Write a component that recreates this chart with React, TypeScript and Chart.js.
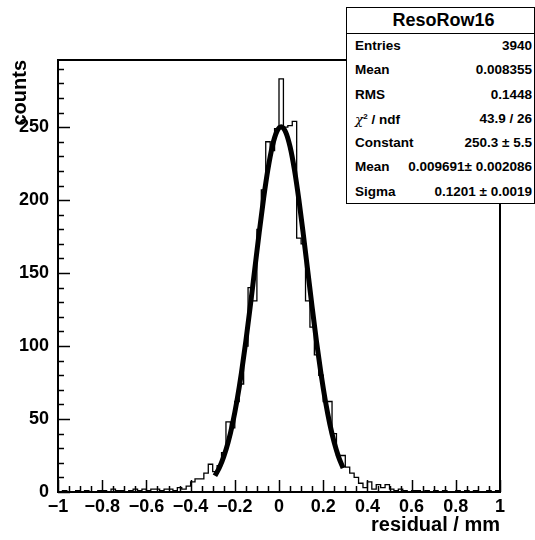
import React, { useEffect, useRef } from 'react';
import { Chart, registerables } from 'chart.js';

Chart.register(...registerables);

// ---------- data ----------
const HIST_MIN = -1;
const BIN_WIDTH = 0.02;
const COUNTS: number[] = [
  // -1.00 .. -0.44
  0, 1, 0, 0, 1, 0, 1, 0, 0, 1,
  1, 0, 2, 1, 1, 0, 1, 2, 1, 2,
  1, 2, 2, 1, 2, 2, 1, 3,
  // -0.44 .. -0.24
  2, 4, 7, 9, 9, 13, 19, 14, 18, 27,
  // -0.24 .. 0
  48, 44, 62, 74, 100, 140, 131, 180, 207, 240, 234, 249,
  // 0 .. 0.30
  283, 250, 251, 254, 174, 170, 131, 113, 94, 80, 62, 62, 40, 25, 25,
  // 0.30 .. 0.54
  17, 13, 10, 6, 3, 7, 2, 5, 3, 5, 2, 1,
  // 0.54 .. 1.00
  2, 1, 0, 1, 1, 0, 1, 0, 1, 0, 1, 0, 0, 1, 0, 1, 0, 1, 0, 0, 1, 0, 1,
];

const FIT_X: number[] = [
  -0.29, -0.27, -0.25, -0.23, -0.21, -0.19, -0.17, -0.15, -0.13, -0.11,
  -0.09, -0.07, -0.05, -0.03, -0.01, 0.01, 0.03, 0.05, 0.07, 0.09,
  0.11, 0.13, 0.15, 0.17, 0.19, 0.21, 0.23, 0.25, 0.27, 0.29,
];
const FIT_Y: number[] = [
  11.1, 16.6, 24.2, 34.1, 47.0, 62.8, 81.7, 103.4, 127.3, 152.3,
  177.3, 200.8, 221.2, 237.0, 246.9, 250.3, 246.7, 236.6, 220.7, 200.2,
  176.6, 151.6, 126.5, 102.7, 81.1, 62.3, 46.5, 33.8, 23.9, 16.4,
];

const X_MIN = -1;
const X_MAX = 1;
const Y_MIN = 0;
const Y_MAX = 296;
const X_MAJOR = [-1, -0.8, -0.6, -0.4, -0.2, 0, 0.2, 0.4, 0.6, 0.8, 1];
const X_LABELS = ['\u22121', '\u22120.8', '\u22120.6', '\u22120.4', '\u22120.2', '0', '0.2', '0.4', '0.6', '0.8', '1'];
const X_MINOR_STEP = 0.05;
const Y_MAJOR = [0, 50, 100, 150, 200, 250];
const Y_LABELS = ['0', '50', '100', '150', '200', '250'];
const Y_MINOR_STEP = 10;

const X_TITLE = 'residual / mm';
const Y_TITLE = 'counts';

const STATS_TITLE = 'ResoRow16';
const STATS_LABELS = ['Entries', 'Mean', 'RMS', 'CHI', 'Constant', 'Mean', 'Sigma'];
const STATS_VALUES = ['3940', '0.008355', '0.1448', '43.9 / 26', '250.3 \u00b1 5.5', '0.009691\u00b1 0.002086', '0.1201 \u00b1 0.0019'];

const FONT = "'Liberation Sans', Arial, Helvetica, sans-serif";

// ---------- helpers ----------
function labelFor(v: number, majors: number[], labels: string[]): string {
  for (let i = 0; i < majors.length; i++) {
    if (Math.abs(v - majors[i]) < 1e-6) return labels[i];
  }
  return '';
}

function isMajor(v: number, majors: number[]): boolean {
  return majors.some((m) => Math.abs(v - m) < 1e-6);
}

const rootAxesPlugin = {
  id: 'rootAxes',
  afterDraw(chart: any) {
    const { ctx, chartArea } = chart;
    const xs = chart.scales.x;
    const ys = chart.scales.y;
    ctx.save();
    ctx.strokeStyle = '#000';
    ctx.lineWidth = 1.5;
    const nx = Math.round((X_MAX - X_MIN) / X_MINOR_STEP);
    for (let i = 0; i <= nx; i++) {
      const v = X_MIN + i * X_MINOR_STEP;
      const px = Math.round(xs.getPixelForValue(v)) + 0.5;
      const len = isMajor(v, X_MAJOR) ? 12 : 6;
      ctx.beginPath();
      ctx.moveTo(px, chartArea.bottom);
      ctx.lineTo(px, chartArea.bottom - len);
      ctx.stroke();
    }
    for (let v = Y_MIN; v <= Y_MAX; v += Y_MINOR_STEP) {
      const py = Math.round(ys.getPixelForValue(v)) + 0.5;
      const len = isMajor(v, Y_MAJOR) ? 12 : 6;
      ctx.beginPath();
      ctx.moveTo(chartArea.left, py);
      ctx.lineTo(chartArea.left + len, py);
      ctx.stroke();
    }
    ctx.lineWidth = 2;
    ctx.strokeRect(chartArea.left, chartArea.top, chartArea.right - chartArea.left, chartArea.bottom - chartArea.top);
    ctx.restore();
  },
};

function StatsBox() {
  const rowH = 24.3;
  return (
    <div
      style={{
        position: 'absolute',
        left: 346,
        top: 7,
        width: 189,
        height: 197,
        boxSizing: 'border-box',
        border: '1.5px solid #000',
        background: '#fff',
        fontFamily: FONT,
        color: '#000',
      }}
    >
      <div
        style={{
          height: 25,
          lineHeight: '25px',
          textAlign: 'center',
          fontWeight: 'bold',
          fontSize: 18,
          borderBottom: '1.5px solid #000',
          paddingLeft: 6,
        }}
      >
        {STATS_TITLE}
      </div>
      {STATS_LABELS.map((lab, i) => (
        <div
          key={i}
          style={{
            height: rowH,
            lineHeight: rowH + 'px',
            display: 'flex',
            justifyContent: 'space-between',
            fontWeight: 'bold',
            fontSize: 13.5,
            paddingLeft: 8,
            paddingRight: 2,
            whiteSpace: 'nowrap',
          }}
        >
          <span>
            {lab === 'CHI' ? (
              <span>
                <i style={{ fontWeight: 'normal', fontFamily: "'DejaVu Serif', serif" }}>{'\u03c7'}</i>
                <span style={{ fontSize: 8, position: 'relative', top: -5 }}>2</span>
                {' / ndf'}
              </span>
            ) : (
              lab
            )}
          </span>
          <span>{STATS_VALUES[i]}</span>
        </div>
      ))}
    </div>
  );
}

export default function App() {
  const ref = useRef<HTMLCanvasElement>(null);

  useEffect(() => {
    const histPoints: { x: number; y: number }[] = [{ x: HIST_MIN, y: 0 }];
    COUNTS.forEach((c, i) => {
      const lo = HIST_MIN + i * BIN_WIDTH;
      histPoints.push({ x: lo, y: c });
      histPoints.push({ x: lo + BIN_WIDTH, y: c });
    });
    histPoints.push({ x: HIST_MIN + COUNTS.length * BIN_WIDTH, y: 0 });

    const fitPoints = FIT_X.map((x, i) => ({ x, y: FIT_Y[i] }));

    const tickFont = { family: FONT, weight: 'bold' as const, size: 18 };
    const titleFont = { family: FONT, weight: 'bold' as const, size: 20 };

    const chart = new Chart(ref.current as HTMLCanvasElement, {
      type: 'line',
      data: {
        datasets: [
          {
            data: fitPoints,
            borderColor: '#000',
            borderWidth: 5,
            pointRadius: 0,
            cubicInterpolationMode: 'monotone',
            fill: false,
          },
          {
            data: histPoints,
            borderColor: '#000',
            borderWidth: 1.3,
            pointRadius: 0,
            tension: 0,
            fill: false,
          },
        ],
      },
      options: {
        animation: false,
        responsive: false,
        devicePixelRatio: 1,
        layout: { padding: { left: 0, top: 60, right: 35, bottom: 0 } },
        plugins: { legend: { display: false }, tooltip: { enabled: false }, title: { display: false } },
        scales: {
          x: {
            type: 'linear',
            min: X_MIN,
            max: X_MAX,
            grid: { display: false, drawTicks: false },
            border: { display: false },
            ticks: {
              stepSize: X_MINOR_STEP,
              autoSkip: false,
              maxRotation: 0,
              minRotation: 0,
              padding: 4,
              color: '#000',
              font: tickFont,
              callback: (v: any) => labelFor(Number(v), X_MAJOR, X_LABELS),
            },
            title: {
              display: true,
              text: X_TITLE,
              align: 'end',
              color: '#000',
              font: titleFont,
              padding: { top: 0, bottom: 3 },
            },
            afterFit: (s: any) => {
              s.height = 48;
            },
          },
          y: {
            type: 'linear',
            min: Y_MIN,
            max: Y_MAX,
            grid: { display: false, drawTicks: false },
            border: { display: false },
            ticks: {
              stepSize: Y_MINOR_STEP,
              autoSkip: false,
              padding: 9,
              color: '#000',
              font: tickFont,
              callback: (v: any) => labelFor(Number(v), Y_MAJOR, Y_LABELS),
            },
            title: {
              display: true,
              text: Y_TITLE,
              align: 'end',
              color: '#000',
              font: titleFont,
              padding: { top: 8, bottom: 0 },
            },
            afterFit: (s: any) => {
              s.width = 58;
            },
          },
        },
      },
      plugins: [rootAxesPlugin],
    } as any);

    return () => chart.destroy();
  }, []);

  return (
    <div style={{ position: 'absolute', left: 0, top: 0, width: 535, height: 540, background: '#fff', overflow: 'hidden' }}>
      <canvas ref={ref} width={535} height={540} style={{ position: 'absolute', left: 0, top: 0, width: 535, height: 540 }} />
      <StatsBox />
    </div>
  );
}
